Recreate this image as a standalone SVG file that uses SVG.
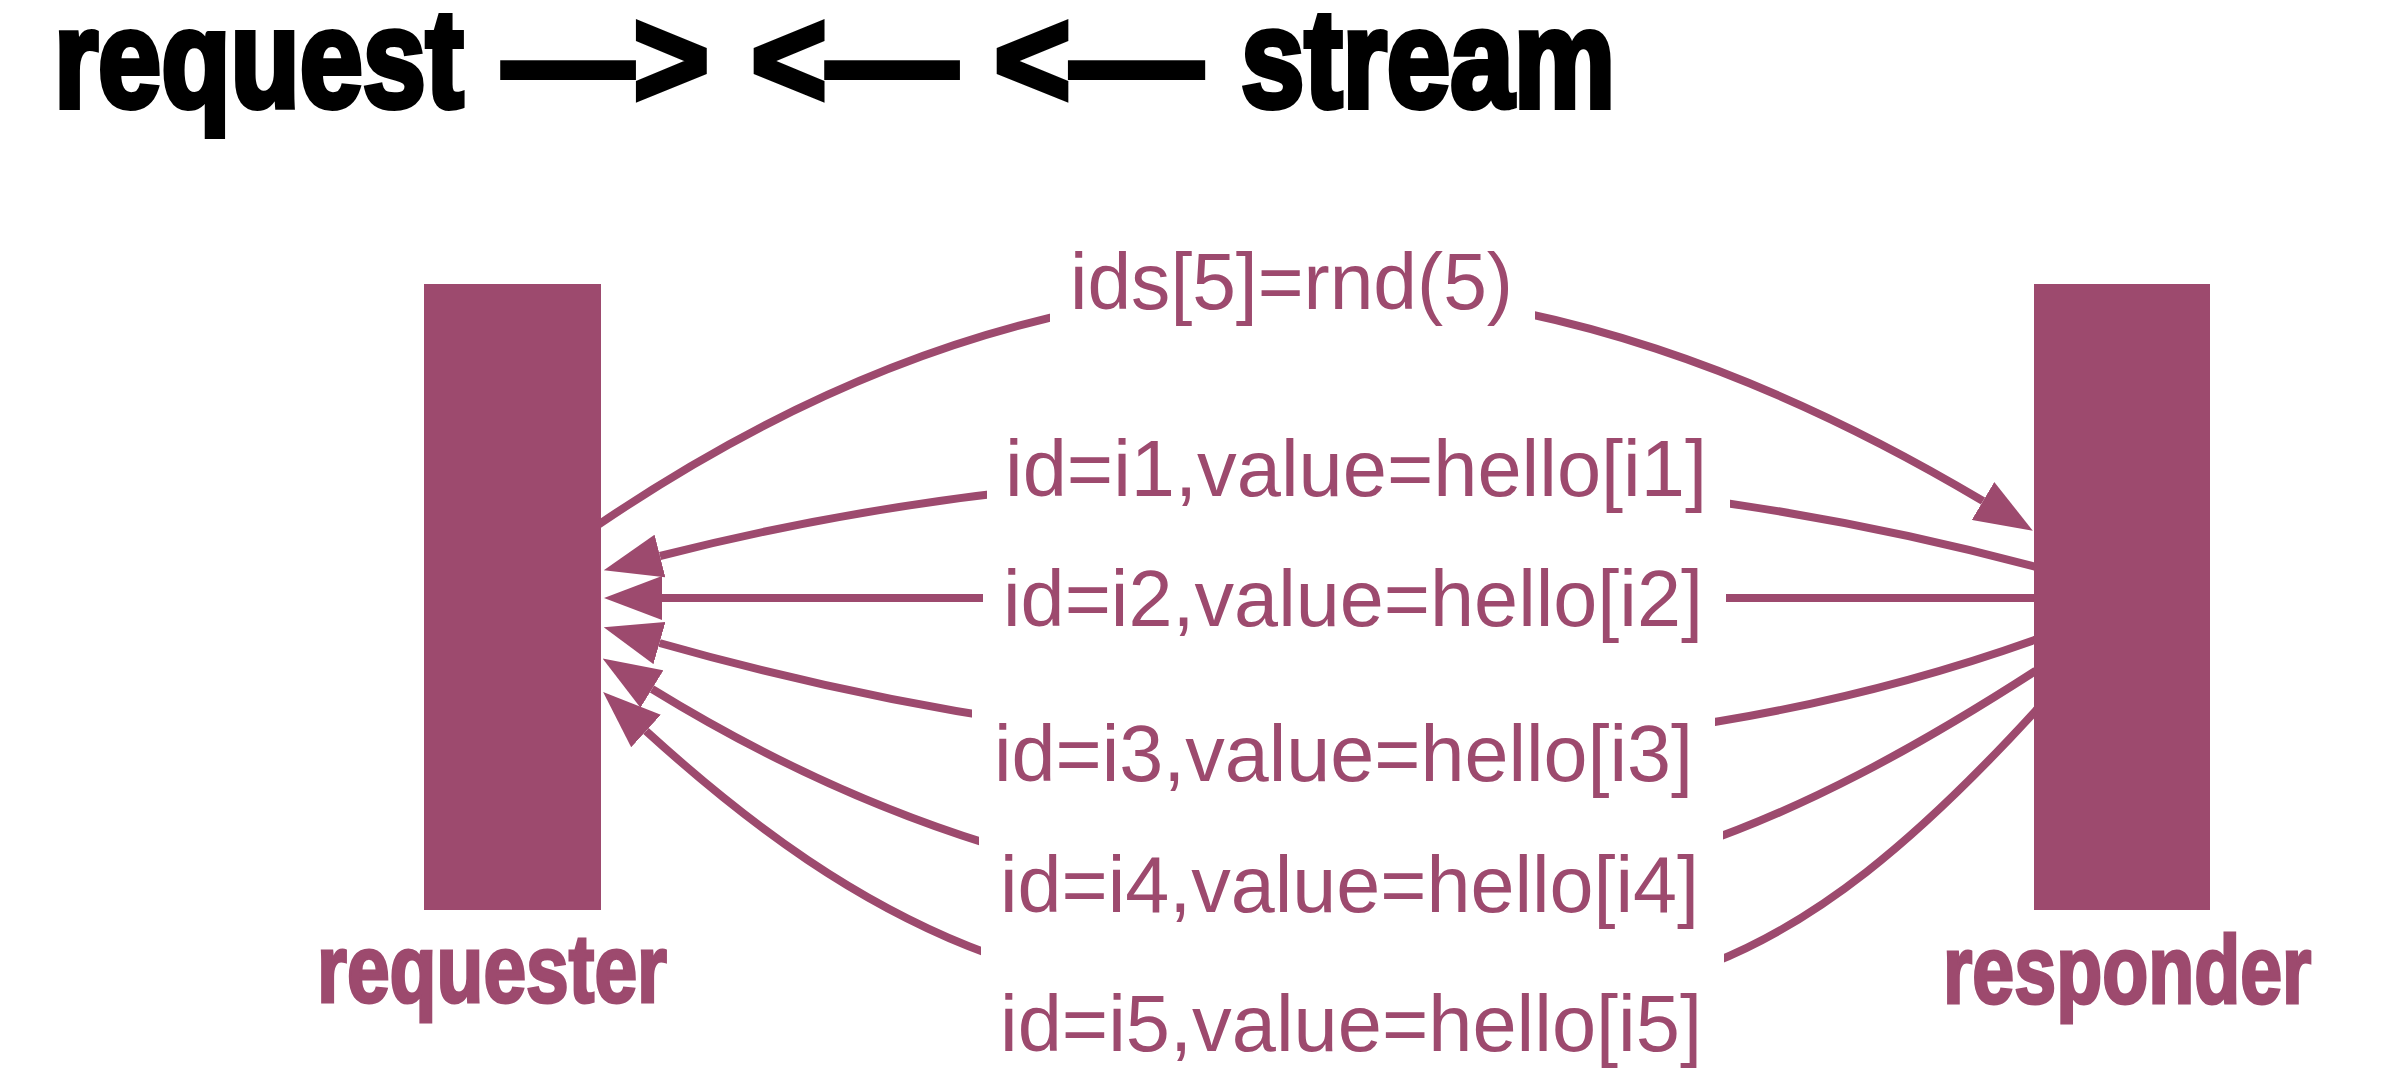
<svg xmlns="http://www.w3.org/2000/svg" width="2392" height="1088" viewBox="0 0 2392 1088">
<style>
.title{font-family:"Liberation Sans",Arial,sans-serif;font-weight:bold;font-size:140px;fill:#000;stroke:#000;stroke-width:6;stroke-linejoin:miter}
.node{fill:#9d4a6e}
.nlabel{font-family:"Liberation Sans",Arial,sans-serif;font-weight:bold;font-size:96px;fill:#9d4a6e;stroke:#9d4a6e;stroke-width:3}
.conn{fill:none;stroke:#9d4a6e;stroke-width:8}
.msg{font-family:"Liberation Sans",Arial,sans-serif;font-size:79px;fill:#9d4a6e}
.bg{fill:#fff}
</style>
<defs>
<marker id="ah" markerUnits="userSpaceOnUse" markerWidth="58" markerHeight="44" viewBox="0 0 58 44" refX="0" refY="22" orient="auto">
<path d="M0,0 L58,22 L0,44 Z" fill="#9d4a6e"/>
</marker>
</defs>
<rect width="2392" height="1088" fill="#fff"/>
<g id="title">
<text class="title" transform="translate(54,107) scale(0.81,1)">request</text>
<text class="title" transform="translate(503,107) scale(0.93,1)">—&gt;</text>
<text class="title" transform="translate(751,107) scale(0.93,1)">&lt;—</text>
<text class="title" transform="translate(994,107) scale(0.94,1)">&lt;—</text>
<text class="title" transform="translate(1241,107) scale(0.815,1)">stream</text>
</g>
<g id="connectors">
<path class="conn" marker-end="url(#ah)" d="M598,525 C1101,183 1553,245 1983,501"/>
<path class="conn" marker-end="url(#ah)" d="M2040,568 C1584,445 1096,445 660,556"/>
<path class="conn" marker-end="url(#ah)" d="M2040,598 L662,598"/>
<path class="conn" marker-end="url(#ah)" d="M2040,638 C1584,802 1092,766 659.5,643"/>
<path class="conn" marker-end="url(#ah)" d="M2040,668 C1784,834 1600,900 1350,900 C1100,900 865,820 652,689"/>
<path class="conn" marker-end="url(#ah)" d="M2040,706 C1784,987 1650,1010 1350,1010 C1050,1010 868,933 646,731"/>
</g>
<g id="requester">
<rect class="node" x="424" y="284" width="177" height="626"/>
<text class="nlabel" transform="translate(317,1002) scale(0.8,1)">requester</text>
</g>
<g id="responder">
<rect class="node" x="2034" y="284" width="176" height="626"/>
<text class="nlabel" transform="translate(1943,1003) scale(0.785,1)">responder</text>
</g>
<g id="label-ids">
<rect class="bg" x="1050" y="240" width="485" height="95"/>
<text class="msg" x="1070" y="309" textLength="443" lengthAdjust="spacingAndGlyphs">ids[5]=rnd(5)</text>
</g>
<g id="label-i1">
<rect class="bg" x="987" y="440" width="743" height="80"/>
<text class="msg" x="1005" y="496" textLength="702" lengthAdjust="spacingAndGlyphs">id=i1,value=hello[i1]</text>
</g>
<g id="label-i2">
<rect class="bg" x="983" y="575" width="743" height="45"/>
<text class="msg" x="1003" y="626" textLength="700" lengthAdjust="spacingAndGlyphs">id=i2,value=hello[i2]</text>
</g>
<g id="label-i3">
<rect class="bg" x="972" y="700" width="743" height="65"/>
<text class="msg" x="994" y="781" textLength="699" lengthAdjust="spacingAndGlyphs">id=i3,value=hello[i3]</text>
</g>
<g id="label-i4">
<rect class="bg" x="979" y="822" width="744" height="90"/>
<text class="msg" x="1000" y="912" textLength="699" lengthAdjust="spacingAndGlyphs">id=i4,value=hello[i4]</text>
</g>
<g id="label-i5">
<rect class="bg" x="981" y="945" width="743" height="75"/>
<text class="msg" x="1000" y="1051" textLength="702" lengthAdjust="spacingAndGlyphs">id=i5,value=hello[i5]</text>
</g>
</svg>
